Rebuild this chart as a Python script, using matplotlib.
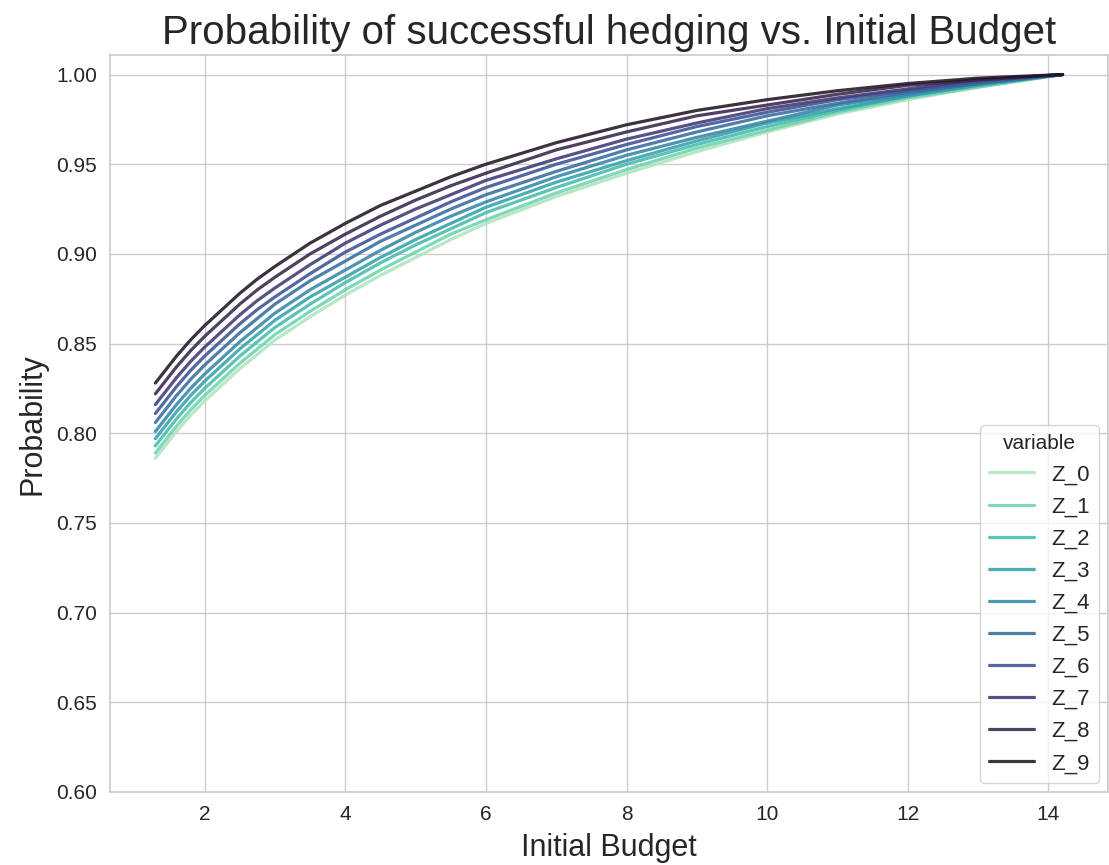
import matplotlib
matplotlib.use("Agg")
import matplotlib.pyplot as plt
import seaborn as sns
import pandas as pd

budget = [1.3, 1.4, 1.6, 1.8, 2.0, 2.25, 2.5, 2.75, 3.0, 3.5, 4.0, 4.5, 5.0, 5.5, 6.0,
          7.0, 8.0, 9.0, 10.0, 11.0, 12.0, 13.0, 14.2]

Z_0 = [.786, .791, .801, .810, .818, .827, .836, .844, .852, .865, .877, .888, .898, .908, .917,
       .932, .945, .957, .968, .978, .986, .993, 1.000]
Z_1 = [.789, .794, .804, .813, .821, .830, .839, .847, .855, .868, .880, .891, .901, .911, .919,
       .934, .947, .959, .969, .979, .987, .993, 1.000]
Z_2 = [.793, .798, .808, .817, .825, .834, .843, .851, .859, .872, .884, .895, .905, .914, .923,
       .937, .950, .961, .971, .980, .988, .994, 1.000]
Z_3 = [.797, .802, .812, .821, .829, .838, .847, .855, .863, .876, .887, .898, .908, .917, .926,
       .940, .952, .963, .973, .981, .988, .994, 1.000]
Z_4 = [.801, .806, .816, .825, .833, .842, .851, .859, .867, .880, .891, .902, .912, .921, .929,
       .943, .955, .965, .974, .983, .989, .995, 1.000]
Z_5 = [.806, .811, .821, .830, .838, .847, .856, .864, .872, .885, .896, .907, .916, .925, .933,
       .946, .958, .968, .977, .984, .990, .995, 1.000]
Z_6 = [.811, .816, .826, .835, .843, .852, .861, .869, .876, .889, .901, .911, .920, .929, .937,
       .950, .961, .971, .979, .986, .991, .996, 1.000]
Z_7 = [.816, .821, .831, .840, .848, .857, .866, .874, .881, .894, .906, .916, .925, .933, .941,
       .953, .964, .973, .981, .987, .992, .997, 1.000]
Z_8 = [.822, .827, .837, .846, .854, .863, .872, .880, .887, .900, .911, .921, .930, .938, .945,
       .958, .968, .977, .983, .989, .994, .997, 1.000]
Z_9 = [.828, .833, .843, .852, .860, .869, .878, .886, .893, .906, .917, .927, .935, .943, .950,
       .962, .972, .980, .986, .991, .995, .998, 1.000]

series_names = ["Z_0", "Z_1", "Z_2", "Z_3", "Z_4", "Z_5", "Z_6", "Z_7", "Z_8", "Z_9"]
series_values = [Z_0, Z_1, Z_2, Z_3, Z_4, Z_5, Z_6, Z_7, Z_8, Z_9]

sns.set_theme(style="whitegrid")
plt.rcParams['font.family'] = ['Liberation Sans', 'DejaVu Sans']

rows = []
for name, vals in zip(series_names, series_values):
    for b, v in zip(budget, vals):
        rows.append({"Initial Budget": b, "variable": name, "value": v})
df = pd.DataFrame(rows)

fig = plt.figure(figsize=(11.09, 8.65), dpi=100)
ax = fig.add_axes([0.0992, 0.0844, 0.8998, 0.8516])
palette = sns.color_palette("mako_r", 10)
sns.lineplot(data=df, x="Initial Budget", y="value", hue="variable",
             palette=palette, linewidth=2.3, alpha=0.88, ax=ax)
ax.set_ylim(bottom=0.6)
ax.set_title("Probability of successful hedging vs. Initial Budget", fontsize=29, pad=8)
ax.set_xlabel("Initial Budget", fontsize=22, labelpad=6)
ax.set_ylabel("Probability", fontsize=22, labelpad=6)
ax.tick_params(labelsize=15)
leg = ax.legend(title="variable", loc="lower right", fontsize=16, title_fontsize=15,
                handlelength=2.0, borderaxespad=0.4)
for line in leg.get_lines():
    line.set_alpha(0.88)
    line.set_linewidth(2.3)
fig.savefig("out.png", dpi=100)
